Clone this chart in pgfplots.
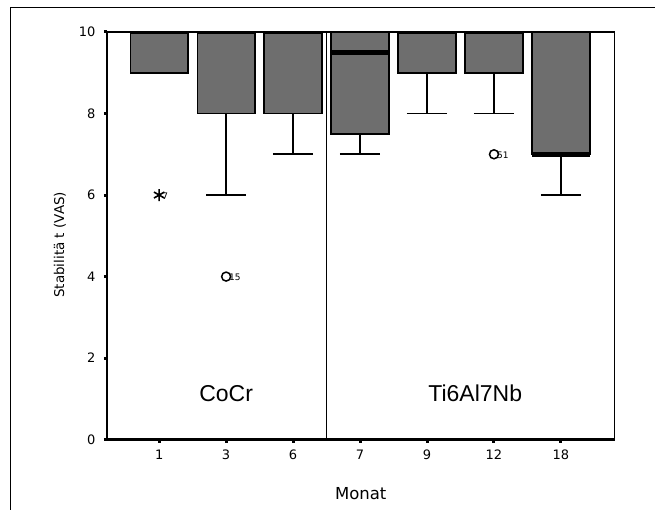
\documentclass[border=0pt]{standalone}
\usepackage{fontspec}
\setmainfont{DejaVu Sans}
\newfontfamily\helv{Liberation Sans}
\usepackage{pgfplots}
\usepgfplotslibrary{statistics}
\pgfplotsset{compat=1.18}
\definecolor{boxgray}{HTML}{6E6E6E}

\begin{document}
\begin{tikzpicture}
\begin{axis}[
  at={(0pt,0pt)},anchor=south west,
  scale only axis,width=508pt,height=408pt,
  xmin=-0.78,xmax=6.8,ymin=0,ymax=10,
  xtick={0,...,6},xticklabels={1,3,6,7,9,12,18},
  ytick={0,2,...,10},
  xtick pos=bottom,ytick pos=left,
  tick align=outside,major tick length=3pt,
  tick style={line width=3pt,black},
  axis line style={line width=1.2pt},
  /pgf/number format/assume math mode=true,
  tick label style={font=\fontsize{13}{15}\selectfont},
  yticklabel style={xshift=-5pt},
  xticklabel style={yshift=-4pt},
  xlabel={Monat},ylabel={Stabilitä t (VAS)},
  xlabel style={font=\fontsize{16.5}{19}\selectfont,at={(axis description cs:0.5,0)},anchor=base,yshift=-60pt},
  ylabel style={font=\fontsize{13.5}{16}\selectfont,at={(axis description cs:0,0.478)},anchor=center,yshift=47pt},
  boxplot/draw direction=y,
  boxplot/every median/.style={line width=4.5pt},
  boxplot/box extend=0.86,boxplot/whisker extend=0.6,
  bx/.style={draw=black,fill=boxgray,line width=1.6pt},
]
% CoCr
\addplot[bx,boxplot prepared={draw position=0,lower whisker=9,lower quartile=9,median=10,upper quartile=10,upper whisker=10}] coordinates {};
\addplot[bx,boxplot prepared={draw position=1,lower whisker=6,lower quartile=8,median=10,upper quartile=10,upper whisker=10}] coordinates {};
\addplot[bx,boxplot prepared={draw position=2,lower whisker=7,lower quartile=8,median=10,upper quartile=10,upper whisker=10}] coordinates {};
% Ti6Al7Nb
\addplot[bx,boxplot prepared={draw position=3,lower whisker=7,lower quartile=7.5,median=9.5,upper quartile=10,upper whisker=10}] coordinates {};
\addplot[bx,boxplot prepared={draw position=4,lower whisker=8,lower quartile=9,median=10,upper quartile=10,upper whisker=10}] coordinates {};
\addplot[bx,boxplot prepared={draw position=5,lower whisker=8,lower quartile=9,median=10,upper quartile=10,upper whisker=10}] coordinates {};
\addplot[bx,boxplot prepared={draw position=6,lower whisker=6,lower quartile=7,median=7,upper quartile=10,upper whisker=10}] coordinates {};
% outliers
\addplot[only marks,mark=asterisk,mark size=6pt,mark options={line width=1.6pt,black},
  nodes near coords,point meta=explicit symbolic,
  nodes near coords style={anchor=west,font=\fontsize{9}{10}\selectfont,xshift=-1pt,yshift=-1pt}]
  coordinates {(0,6) [7]};
\addplot[only marks,mark=o,mark size=4.5pt,mark options={line width=1.5pt,black},
  nodes near coords,point meta=explicit symbolic,
  nodes near coords style={anchor=west,font=\fontsize{9}{10}\selectfont,xshift=-1pt,yshift=-1pt}]
  coordinates {(1,4) [15] (5,7) [51]};
% group separator
\draw[line width=1.6pt] (axis cs:2.5,0) -- (axis cs:2.5,10);
\node[font=\helv\fontsize{23}{26}\selectfont] at (axis cs:1,1.13) {CoCr};
\node[font=\helv\fontsize{23}{26}\selectfont] at (axis cs:4.72,1.13) {Ti6Al7Nb};
\end{axis}
\draw[line width=2.5pt] (0pt,408pt) -- (0pt,0pt) -- (508pt,0pt);
\draw[line width=1pt] (-96pt,-70pt) -- (-96pt,432pt) -- (548pt,432pt);
\path[use as bounding box] (-107pt,-70pt) rectangle (548pt,440pt);
\end{tikzpicture}
\end{document}
